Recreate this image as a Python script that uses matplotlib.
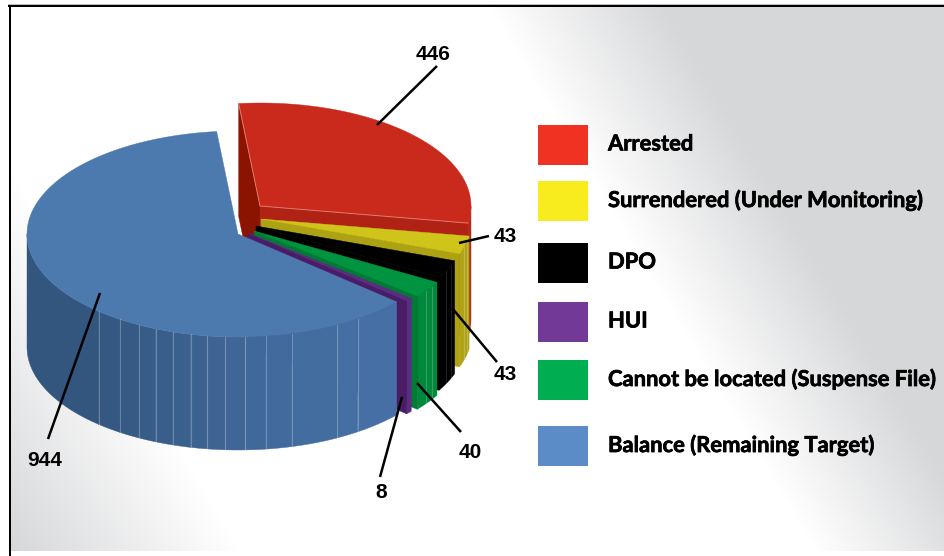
#!/usr/bin/env python
"""
exploded 3D looking pie, slices projected on an ellipse, axes are in pixels
"""
import numpy as np
import matplotlib
matplotlib.use("Agg")
import matplotlib.pyplot as mp
import matplotlib.patheffects as pe
from matplotlib.patches import Rectangle

# pie order, clockwise from the top
slice_names = ["Arrested", "Surrendered", "DPO", "Cannot be located", "HUI", "Balance"]
slice_values = [446, 43, 43, 40, 8, 944]

legend_labels = ["Arrested", "Surrendered (Under Monitoring)", "DPO", "HUI",
                 "Cannot be located (Suspense File)", "Balance (Remaining Target)"]
legend_colors = ["#F03223", "#F8EC1E", "#000000", "#723A96", "#00AD50", "#5B8CC8"]

value_labels = ["446", "43", "43", "40", "8", "944"]

# styles
top_colors = ["#C92A1C", "#CEC41A", "#000000", "#009440", "#5A2C82", "#4C79AE"]
outer_colors = ["#B8281A", "#B0A416", "#000000", "#00893C", "#5A2C82", "#456EA0"]
cut_colors = ["#B02214", "#ADA214", "#000000", "#007A35", "#4A1C66", "#456EA0"]
seam_alpha = [0, 0.2, 0.12, 0.2, 0, 0.25]
apex = [(260, 206), (261, 219), (256, 226), (254, 231), (248, 233), (238, 234)]

RX, RY, H = 211., 103., 113.
START = 95.8

# wall facets on the balance slice, degrees
facet_angles = [228.7, 236, 242, 247, 252, 257, 261.6, 266.5, 272, 277.6, 284.8, 298, 304.5]


def edge(c, a, dy=0.):
    a = np.radians(a)
    return c[0] + RX*np.cos(a), c[1] - RY*np.sin(a) + dy


def wall(ax, c, a0, a1, color, n=40):
    t = np.linspace(a0, a1, n)
    x, y = edge(c, t)
    ax.fill(np.r_[x, x[::-1]], np.r_[y, y[::-1] + H], color=color, lw=0.3)


def flat_wall(ax, c, a, color):
    x, y = edge(c, a)
    ax.fill([c[0], x, x, c[0]], [c[1], y, y + H, c[1] + H], color=color, lw=0.3)


def seam(ax, c, a, alpha):
    x, y = edge(c, a)
    ax.plot([x, x], [y, y + H], color="#FFFFFF", alpha=alpha, lw=0.8)


def draw_pie(ax):
    sweep = 360.*np.array(slice_values, dtype=float)/np.sum(slice_values)
    a1s = START - np.cumsum(sweep)
    a0s = a1s + sweep

    for i, name in enumerate(slice_names):
        c, a0, a1 = apex[i], a0s[i], a1s[i]
        if name == "Arrested":
            flat_wall(ax, c, a0, "#8B1400")
        pass
        if name == "Balance":
            # faceted wall, darker going left, front part only
            edges = np.r_[180., facet_angles, a0 + 360.]
            cols = np.linspace(0, 1, len(edges) - 1)
            c0, c1 = np.array([51, 86, 127])/255., np.array([70, 112, 165])/255.
            for j in range(len(edges) - 1):
                wall(ax, c, edges[j], edges[j+1], tuple(c0 + (c1 - c0)*cols[j]))
            pass
            for a in facet_angles:
                seam(ax, c, a, seam_alpha[i])
            pass
        else:
            wall(ax, c, min(a0, 0.), a1, outer_colors[i])
            flat_wall(ax, c, a1, cut_colors[i])
            if seam_alpha[i] > 0:
                for f in (0.3, 0.6):
                    seam(ax, c, a0 + (a1 - a0)*f, seam_alpha[i])
                pass
            pass
        pass
        t = np.linspace(a0, a1, 120)
        x, y = edge(c, t)
        ax.fill(np.r_[c[0], x], np.r_[c[1], y], color=top_colors[i], lw=0.3)
        if name == "Arrested":
            xa, ya = edge(c, a0)
            xb, yb = edge(c, a1)
            ax.plot([xa, c[0], xb], [ya, c[1], yb], color="#E88A80", lw=0.7, alpha=0.8)
        pass
    pass


def draw_background(ax):
    xx, yy = np.meshgrid(np.arange(11, 944), np.arange(7, 551))
    s = xx - 0.6*yy
    t = np.clip((-90. - s)/230., 0, 1) + np.clip((s - 485.)/175., 0, 1)
    img = np.ones(xx.shape + (3,))
    grey = np.array([214, 215, 217])/255.
    for k in range(3):
        img[..., k] = 1. - (1. - grey[k])*t
    pass
    ax.imshow(img, extent=(11, 944, 551, 7), aspect="auto", interpolation="bilinear", zorder=0)
    ax.add_patch(Rectangle((8, 4), 936, 1.2, color="#BBBBBB", lw=0))
    ax.add_patch(Rectangle((8, 5), 936, 2.4, color="#000000", lw=0))
    ax.add_patch(Rectangle((8.5, 5), 2.6, 551, color="#000000", lw=0))


def draw_legend(ax):
    boxes = [125, 181, 243, 302, 360, 426]
    texts = [144, 200, 262, 321, 379, 445]
    bolder = [pe.withStroke(linewidth=0.5, foreground="#000000")]
    for b, t, lab, col in zip(boxes, texts, legend_labels, legend_colors):
        ax.add_patch(Rectangle((538, b), 50, 40, color=col, lw=0))
        ax.text(608, t, lab, family="Lato", weight="bold", fontsize=15.8, color="#000000",
                ha="left", va="center", path_effects=bolder)
    pass


def draw_labels(ax):
    leaders = [((377, 125), (437, 66)), ((459, 243), (489, 236)), ((452, 308), (497, 362)),
               ((417, 383), (461, 432)), ((402, 397), (380, 477)), ((100, 293), (48, 439))]
    spots = [(433, 55), (505, 237), (505, 374), (470, 452), (381, 492), (45, 460)]
    for (p, q), s, lab in zip(leaders, spots, value_labels):
        ax.plot([p[0], q[0]], [p[1], q[1]], color="#000000", lw=1.8, solid_capstyle="butt")
        ax.text(s[0], s[1], lab, family="Liberation Sans", weight="bold", fontsize=15,
                color="#000000", ha="center", va="center")
    pass


if __name__ == '__main__':
    fig = mp.figure(figsize=(9.44, 5.56), dpi=100)
    ax = fig.add_axes([0, 0, 1, 1])
    draw_background(ax)
    draw_pie(ax)
    draw_legend(ax)
    draw_labels(ax)
    ax.set_xlim(0, 944)
    ax.set_ylim(556, 0)
    ax.axis("off")
    fig.savefig("out.png", dpi=100)
